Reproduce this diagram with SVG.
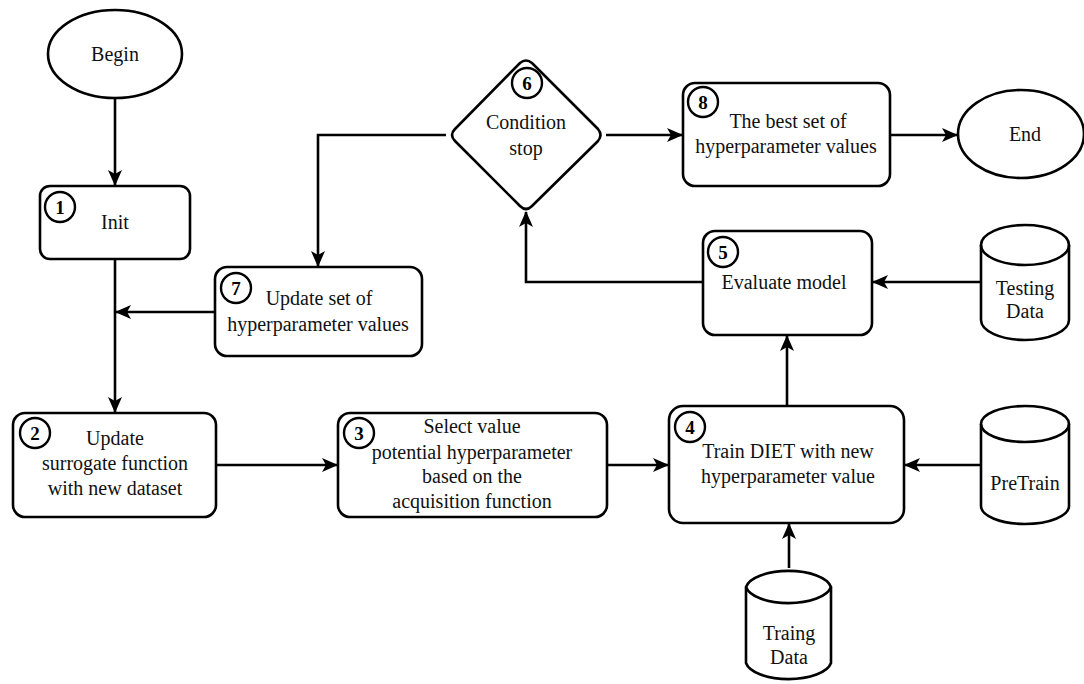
<svg xmlns="http://www.w3.org/2000/svg" width="1084" height="684" viewBox="0 0 1084 684" font-family="'Liberation Serif', 'DejaVu Serif', serif">
<style>
.s{fill:#fff;stroke:#000;stroke-width:2.6}
.c{fill:none;stroke:#000;stroke-width:2.6}
.t{font-family:'Liberation Serif','DejaVu Serif',serif;font-size:20px;fill:#111;text-anchor:middle}
.n{font-family:'Liberation Serif','DejaVu Serif',serif;font-size:19px;font-weight:bold;fill:#000;text-anchor:middle}
.b{fill:#fff;stroke:#000;stroke-width:2.4}
</style>
<defs>
<marker id="a" markerWidth="16" markerHeight="14" refX="15" refY="7" orient="auto" markerUnits="userSpaceOnUse">
<path d="M0,0 L16,7 L0,14 L4,7 Z" fill="#000"/>
</marker>
</defs>
<rect width="1084" height="684" fill="#fff"/>
<g id="connectors">
<line class="c" x1="115" y1="98" x2="115" y2="185" marker-end="url(#a)"/>
<line class="c" x1="115" y1="259" x2="115" y2="412" marker-end="url(#a)"/>
<line class="c" x1="215" y1="312" x2="116" y2="312" marker-end="url(#a)"/>
<polyline class="c" points="446,135 318,135 318,266" marker-end="url(#a)"/>
<line class="c" x1="606" y1="135" x2="682" y2="135" marker-end="url(#a)"/>
<line class="c" x1="890" y1="135" x2="957" y2="135" marker-end="url(#a)"/>
<polyline class="c" points="703,282 526,282 526,212" marker-end="url(#a)"/>
<line class="c" x1="981" y1="282" x2="873" y2="282" marker-end="url(#a)"/>
<line class="c" x1="787" y1="406" x2="787" y2="336" marker-end="url(#a)"/>
<line class="c" x1="216" y1="465" x2="337" y2="465" marker-end="url(#a)"/>
<line class="c" x1="607" y1="465" x2="668" y2="465" marker-end="url(#a)"/>
<line class="c" x1="981" y1="465" x2="905" y2="465" marker-end="url(#a)"/>
<line class="c" x1="789" y1="568" x2="789" y2="524" marker-end="url(#a)"/>
</g>
<g id="begin">
<ellipse class="s" cx="115" cy="54" rx="67" ry="44"/>
<text class="t" x="115" y="61">Begin</text>
</g>
<g id="n1">
<rect class="s" x="40" y="186" width="150" height="73" rx="10"/>
<circle class="b" cx="60" cy="207" r="15"/>
<text class="n" x="60" y="214">1</text>
<text class="t" x="115" y="229">Init</text>
</g>
<g id="n2">
<rect class="s" x="13" y="413" width="203" height="104" rx="12"/>
<circle class="b" cx="35" cy="433" r="15"/>
<text class="n" x="35" y="440">2</text>
<text class="t" x="115" y="445">Update</text>
<text class="t" x="115" y="470">surrogate function</text>
<text class="t" x="115" y="495">with new dataset</text>
</g>
<g id="n3">
<rect class="s" x="338" y="413" width="269" height="104" rx="12"/>
<circle class="b" cx="359" cy="433" r="15"/>
<text class="n" x="359" y="440">3</text>
<text class="t" x="472" y="433">Select value</text>
<text class="t" x="472" y="459">potential hyperparameter</text>
<text class="t" x="472" y="483">based on the</text>
<text class="t" x="472" y="508">acquisition function</text>
</g>
<g id="n4">
<rect class="s" x="669" y="406" width="235" height="117" rx="14"/>
<circle class="b" cx="690" cy="427" r="15"/>
<text class="n" x="690" y="434">4</text>
<text class="t" x="788" y="458">Train DIET with new</text>
<text class="t" x="788" y="483">hyperparameter value</text>
</g>
<g id="n5">
<rect class="s" x="703" y="231" width="169" height="104" rx="12"/>
<circle class="b" cx="723" cy="252" r="15"/>
<text class="n" x="723" y="259">5</text>
<text class="t" x="784" y="289">Evaluate model</text>
</g>
<g id="n6">
<path class="s" d="M520,63 Q526,58 532,63 L598,129 Q603,135 598,141 L532,206 Q526,212 520,206 L455,141 Q449,135 455,129 Z"/>
<circle class="b" cx="527" cy="83" r="15"/>
<text class="n" x="527" y="90">6</text>
<text class="t" x="526" y="129">Condition</text>
<text class="t" x="526" y="155">stop</text>
</g>
<g id="n7">
<rect class="s" x="215" y="267" width="207" height="89" rx="12"/>
<circle class="b" cx="236" cy="288" r="15"/>
<text class="n" x="236" y="295">7</text>
<text class="t" x="319" y="305">Update set of</text>
<text class="t" x="318" y="331">hyperparameter values</text>
</g>
<g id="n8">
<rect class="s" x="683" y="83" width="207" height="103" rx="12"/>
<circle class="b" cx="703" cy="102" r="15"/>
<text class="n" x="703" y="109">8</text>
<text class="t" x="788" y="128">The best set of</text>
<text class="t" x="786" y="153">hyperparameter values</text>
</g>
<g id="end">
<ellipse class="s" cx="1021" cy="134" rx="63" ry="44"/>
<text class="t" x="1025" y="141">End</text>
</g>
<g id="testing">
<path class="s" d="M981,245 A44,20 0 0 1 1069,245 L1069,320 A44,20 0 0 1 981,320 Z"/>
<path class="c" d="M981,245 A44,20 0 0 0 1069,245"/>
<text class="t" x="1025" y="295">Testing</text>
<text class="t" x="1025" y="318">Data</text>
</g>
<g id="pretrain">
<path class="s" d="M981,424 A44,18 0 0 1 1069,424 L1069,506 A44,18 0 0 1 981,506 Z"/>
<path class="c" d="M981,424 A44,18 0 0 0 1069,424"/>
<text class="t" x="1025" y="490">PreTrain</text>
</g>
<g id="traing">
<path class="s" d="M746,587 A43,19 0 0 1 831,587 L831,663 A43,19 0 0 1 746,663 Z"/>
<path class="c" d="M746,587 A43,19 0 0 0 831,587"/>
<text class="t" x="789" y="640">Traing</text>
<text class="t" x="789" y="664">Data</text>
</g>
</svg>
